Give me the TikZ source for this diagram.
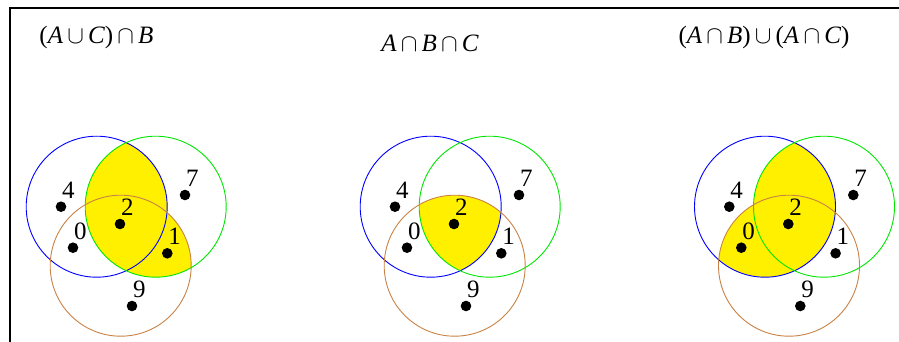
\documentclass[tikz,border=0pt]{standalone}
\usepackage{fontspec}
\setmainfont{Liberation Serif}
\definecolor{cA}{RGB}{0,0,255}
\definecolor{cB}{RGB}{0,230,0}
\definecolor{cC}{RGB}{200,130,70}
\definecolor{yel}{RGB}{255,240,0}
\newcommand{\setA}{\textit{A}}
\newcommand{\setB}{\textit{B}}
\newcommand{\setC}{\textit{C}}
\newcommand{\uu}{\,$\cup$\,}
\newcommand{\ii}{\,$\cap$\,}
\tikzset{
  dot/.style={circle, fill=black, inner sep=0pt, minimum size=10.6pt},
  num/.style={font=\fontsize{25}{25}\selectfont, inner sep=0pt, anchor=base},
  ttl/.style={font=\fontsize{25}{25}\selectfont, inner sep=0pt},
  ring/.style={line width=0.9pt},
  yfill/.style={fill=yel},
}
\newcommand{\venn}[2]{%
  \coordinate (#2A) at (#1,206.7);
  \coordinate (#2B) at (#1+59,206.7);
  \coordinate (#2C) at (#1+24,265.7);
}
\newcommand{\rings}[1]{%
  \draw[ring, cA] (#1A) circle[radius=70.5pt];
  \draw[ring, cB] (#1B) circle[radius=70.5pt];
  \draw[ring, cC] (#1C) circle[radius=70.5pt];
  \foreach \n/\dx/\dy in {4/-35.7/0, 2/23.3/17.3, 0/-23.7/41, 1/70.6/46.6, 7/88.3/-11.7, 9/35.3/99.3}{
    \node[dot] (#1d\n) at ([shift={(\dx,\dy)}]#1A) {};
    \node[num] (#1l\n) at ([shift={(7.3,-8.4)}]#1d\n.center) {\n};
  }
}
\begin{document}
\begin{tikzpicture}[x=1pt, y=-1pt]
\useasboundingbox (0,0) rectangle (899,342);
\draw[line width=2pt] (10,342) -- (10,8) -- (899,8);

% panel 1: (A u C) n B
\venn{96.7}{p}
\begin{scope}
  \clip (pB) circle[radius=70.5pt];
  \fill[yfill] (pA) circle[radius=70.5pt];
  \fill[yfill] (pC) circle[radius=70.5pt];
\end{scope}
\rings{p}
\node[ttl] (t1) at (96.5,37) {(\setA\uu\setC)\ii\setB};

% panel 2: A n B n C
\venn{430.7}{q}
\begin{scope}
  \clip (qA) circle[radius=70.5pt];
  \clip (qB) circle[radius=70.5pt];
  \fill[yfill] (qC) circle[radius=70.5pt];
\end{scope}
\rings{q}
\node[ttl] (t2) at (430,43) {\setA\ii\setB\ii\setC};

% panel 3: (A n B) u (A n C)
\venn{765}{r}
\begin{scope}
  \clip (rA) circle[radius=70.5pt];
  \fill[yfill] (rB) circle[radius=70.5pt];
  \fill[yfill] (rC) circle[radius=70.5pt];
\end{scope}
\rings{r}
\node[ttl] (t3) at (764,37) {(\setA\ii\setB)\uu(\setA\ii\setC)};
\end{tikzpicture}
\end{document}
